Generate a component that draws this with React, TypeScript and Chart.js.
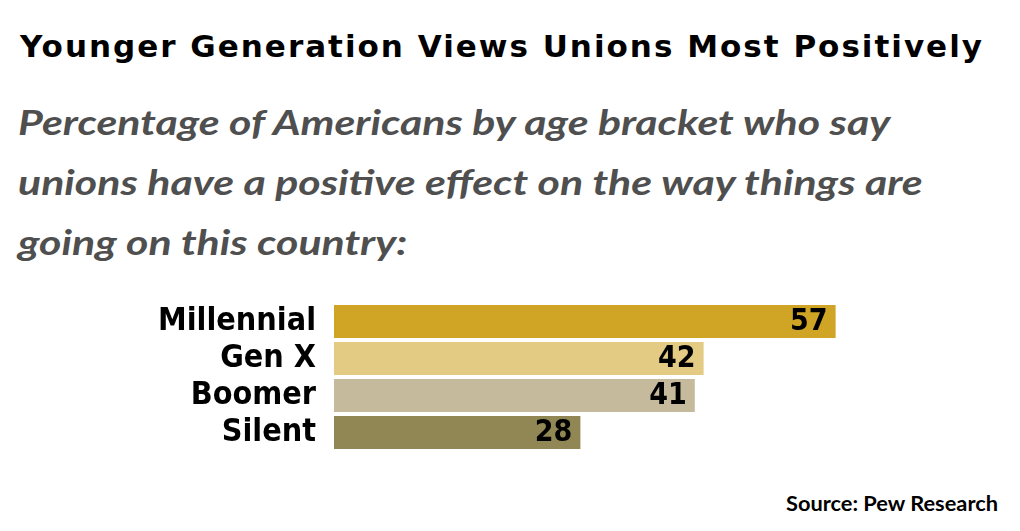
import React, { useEffect, useRef } from "react";
import { Chart, registerables } from "chart.js";

Chart.register(...registerables);

const categories = ["Millennial", "Gen X", "Boomer", "Silent"];
const values = [57, 42, 41, 28];
const barColors = ["#D0A526", "#E3CB84", "#C5BB9C", "#918755"];
const titleText = "Younger Generation Views Unions Most Positively";
const subtitleLines = [
  "Percentage of Americans by age bracket who say",
  "unions have a positive effect on the way things are",
  "going on this country:",
];
const sourceText = "Source: Pew Research";

const condensed = "'DejaVu Sans Condensed', 'DejaVu Sans', sans-serif";

const valueLabelPlugin = {
  id: "valueLabels",
  afterDatasetsDraw(chart: any) {
    const ctx = chart.ctx;
    const meta = chart.getDatasetMeta(0);
    ctx.save();
    ctx.font = "bold 30px " + condensed;
    ctx.fillStyle = "#000000";
    ctx.textAlign = "right";
    ctx.textBaseline = "middle";
    meta.data.forEach((bar: any, i: number) => {
      ctx.fillText(String(values[i]), bar.x - 8, bar.y + 1);
    });
    ctx.restore();
  },
};

export default function App() {
  const canvasRef = useRef<HTMLCanvasElement | null>(null);

  useEffect(() => {
    if (!canvasRef.current) return;
    const chart = new Chart(canvasRef.current, {
      type: "bar",
      data: {
        labels: categories,
        datasets: [
          {
            data: values,
            backgroundColor: barColors,
            borderWidth: 0,
            barPercentage: 0.89,
            categoryPercentage: 1,
          },
        ],
      },
      options: {
        indexAxis: "y",
        animation: false,
        responsive: true,
        maintainAspectRatio: false,
        layout: { padding: { left: 0, right: 158, top: 13, bottom: 9 } },
        plugins: {
          legend: { display: false },
          tooltip: { enabled: false },
          title: { display: false },
        },
        scales: {
          x: { display: false, min: 0, max: 60 },
          y: {
            grid: { display: false, drawTicks: false },
            border: { display: false },
            ticks: {
              color: "#000000",
              padding: 18,
              autoSkip: false,
              font: { family: condensed, weight: "bold", size: 32 },
            },
            afterFit(scale: any) {
              scale.width = 334;
              scale.paddingTop = 0;
              scale.paddingBottom = 0;
            },
          },
        },
      },
      plugins: [valueLabelPlugin],
    } as any);
    return () => chart.destroy();
  }, []);

  return (
    <div style={{ position: "fixed", left: 0, top: 0, width: 1020, height: 531, background: "#ffffff", overflow: "hidden" }}>
      <div
        style={{
          position: "absolute",
          left: 20,
          top: 22,
          fontFamily: "'DejaVu Sans', sans-serif",
          fontWeight: "bold",
          fontSize: 31,
          letterSpacing: "2px",
          color: "#000000",
          whiteSpace: "nowrap",
          lineHeight: "48px",
        }}
      >
        {titleText}
      </div>
      <div
        style={{
          position: "absolute",
          left: 18,
          top: 92,
          fontFamily: "Lato, sans-serif",
          fontWeight: "bold",
          fontStyle: "italic",
          fontSize: 34,
          color: "#4F4F4F",
          whiteSpace: "nowrap",
          lineHeight: "60px",
          transform: "scaleX(1.26)",
          transformOrigin: "0 0",
        }}
      >
        {subtitleLines.map((l, i) => (
          <div key={i}>{l}</div>
        ))}
      </div>
      <div style={{ position: "absolute", left: 0, top: 290, width: 1020, height: 170 }}>
        <canvas ref={canvasRef} />
      </div>
      <div
        style={{
          position: "absolute",
          right: 22,
          top: 489,
          fontFamily: "Lato, sans-serif",
          fontWeight: "bold",
          fontSize: 21.8,
          color: "#000000",
          whiteSpace: "nowrap",
          lineHeight: "28px",
        }}
      >
        {sourceText}
      </div>
    </div>
  );
}
